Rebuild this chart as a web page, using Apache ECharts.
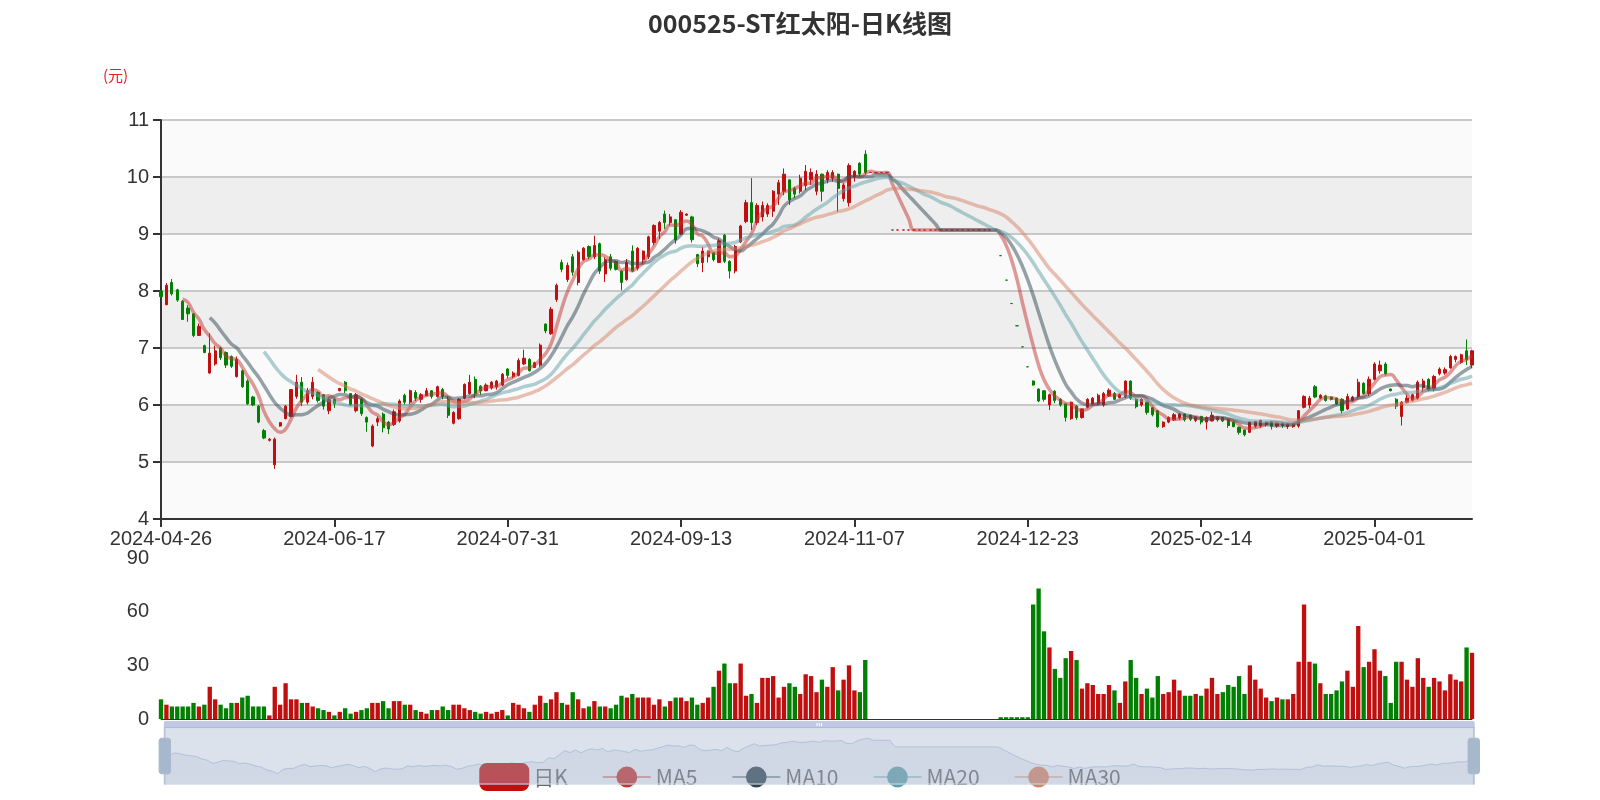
<!DOCTYPE html>
<html><head><meta charset="utf-8">
<script src="https://cdn.jsdelivr.net/npm/echarts@6/dist/echarts.min.js"></script>
<style>html,body{margin:0;padding:0;background:#fff}#c{width:1600px;height:800px}</style>
</head><body><div id="c"></div>
<script>
// ---- categories: trading days from 2024-04-26 ----
const startDate = '2024-04-26';
const dayCount = 243;
const holidays = ['2024-05-01','2024-05-02','2024-05-03','2024-06-10','2024-09-16','2024-09-17',
  '2024-10-01','2024-10-02','2024-10-03','2024-10-04','2024-10-07','2025-01-01',
  '2025-01-28','2025-01-29','2025-01-30','2025-01-31','2025-02-03','2025-02-04','2025-04-04'];

// ---- daily K: [open, close, low, high] ----
const kPart1 = [
[8.0,7.9,7.88,8.02],[7.76,8.1,7.75,8.14],[8.15,7.95,7.92,8.21],[8.02,7.84,7.81,8.04],[7.82,7.5,7.49,7.84],
[7.7,7.6,7.46,7.75],[7.6,7.22,7.19,7.61],[7.22,7.38,7.21,7.43],[7.04,6.92,6.91,7.06],[6.56,6.91,6.55,7.26],
[6.72,6.95,6.69,7.04],[7.0,6.83,6.79,7.02],[6.92,6.7,6.65,6.94],[6.85,6.68,6.65,6.87],[6.5,6.8,6.48,6.85],
[6.6,6.32,6.3,6.62],[6.42,6.02,6.0,6.45],[6.14,6.0,5.98,6.16],[5.98,5.7,5.68,6.0],[5.55,5.42,5.4,5.58],
[5.38,5.4,5.36,5.42],[4.95,5.4,4.88,5.43],[5.63,5.69,5.62,5.7],[5.76,5.98,5.75,6.0],[5.8,6.27,5.78,6.28],
[6.15,6.4,6.11,6.53],[6.4,6.05,5.98,6.49],[6.05,6.25,6.01,6.3],[6.15,6.4,6.1,6.49],[6.22,6.08,6.04,6.24],
[6.18,5.98,5.92,6.19],[5.9,6.1,5.84,6.13],[6.1,6.02,5.95,6.12],[6.25,6.29,6.24,6.3],[6.4,6.25,6.21,6.42],
[6.2,6.0,5.98,6.21],[5.9,6.18,5.87,6.21],[6.1,5.85,5.81,6.12],[5.78,5.7,5.53,5.8],[5.28,5.63,5.26,5.66],
[5.7,5.76,5.63,5.8],[5.84,5.6,5.52,5.87],[5.7,5.58,5.49,5.72],[5.66,5.88,5.63,5.92],[5.72,6.07,5.69,6.1],
[6.17,6.05,6.01,6.2],[6.05,6.25,6.01,6.27],[6.22,6.12,6.07,6.26],[6.1,6.18,6.04,6.21],[6.16,6.25,6.16,6.3],
[6.25,6.15,6.11,6.26],[6.15,6.32,6.13,6.34],[6.27,6.15,6.1,6.3],[6.1,5.82,5.77,6.15],[5.68,5.87,5.66,5.89],
[5.76,6.1,5.74,6.12],[6.12,6.36,6.1,6.38],[6.2,6.4,6.18,6.53],[6.45,6.2,6.12,6.5],[6.33,6.25,6.18,6.35],
[6.25,6.35,6.24,6.38],[6.3,6.4,6.27,6.42],[6.32,6.42,6.27,6.44],[6.35,6.54,6.33,6.56],[6.63,6.52,6.47,6.65],
[6.5,6.56,6.47,6.59],[6.52,6.78,6.5,6.82],[6.72,6.82,6.7,6.97],[6.8,6.6,6.59,6.82],[6.66,6.74,6.65,6.76],
[6.7,7.05,6.67,7.08],[7.42,7.3,7.26,7.43],[7.25,7.68,7.23,7.72],[7.85,8.1,7.81,8.13],[8.5,8.38,8.33,8.55],
[8.2,8.45,8.16,8.5],[8.6,8.33,8.27,8.65],[8.15,8.68,8.1,8.71],[8.55,8.75,8.53,8.77],[8.78,8.6,8.56,8.8],
[8.6,8.8,8.56,8.97],[8.83,8.35,8.3,8.85],[8.3,8.55,8.16,8.59],[8.6,8.4,8.36,8.65],[8.52,8.38,8.36,8.53],
[8.35,8.15,8.01,8.36],[8.2,8.5,8.18,8.56],[8.7,8.35,8.33,8.8],[8.4,8.75,8.36,8.77],[8.55,8.7,8.48,8.71],
[8.6,8.95,8.56,8.97],[8.85,9.15,8.8,9.17],[9.05,9.2,8.91,9.23],[9.35,9.2,9.09,9.41],[9.2,9.3,9.15,9.35],
[9.25,8.9,8.83,9.26],[9.0,9.38,8.98,9.42],[9.33,9.35,9.32,9.36],[9.3,8.9,8.85,9.32],[8.64,8.48,8.42,8.65],
[8.5,8.7,8.33,8.77],[8.6,8.7,8.5,8.71],[8.67,8.55,8.52,8.69],[8.5,8.88,8.49,8.92],[8.98,8.52,8.49,9.0],
[8.52,8.35,8.22,8.54],[8.35,8.78,8.31,8.81],[8.86,9.14,8.84,9.16],[9.22,9.55,9.19,9.6],[9.55,9.2,9.07,9.98],
[9.2,9.5,9.16,9.54],[9.3,9.5,9.22,9.57],[9.35,9.5,9.3,9.54],[9.4,9.75,9.3,9.77],[9.7,9.9,9.51,9.95],
[9.75,10.05,9.68,10.15],[9.95,9.6,9.51,9.95],[9.8,9.7,9.63,9.83],[9.75,9.98,9.71,10.04],[9.85,10.1,9.77,10.21],
[9.95,10.08,9.86,10.15],[9.75,10.05,9.68,10.12],[10.05,9.75,9.57,10.06],[9.95,10.08,9.89,10.12],[9.98,10.08,9.92,10.12],
[10.05,9.8,9.39,10.06],[9.62,9.86,9.57,9.89],[9.55,10.2,9.48,10.24],[10.0,10.1,9.92,10.12],[10.24,10.05,10.0,10.26],
[10.4,10.08,10.04,10.47]
];
// suspension / one-price days
const kPart2 = [
[10.08,10.08,10.08,10.08],[10.08,10.08,10.08,10.08],[10.08,10.08,10.08,10.08],[10.08,10.08,10.08,10.08],
[9.07,9.07,9.07,9.07],[9.07,9.07,9.07,9.07],[9.07,9.07,9.07,9.07],[9.07,9.07,9.07,9.07],[9.07,9.07,9.07,9.07],
[9.07,9.07,9.07,9.07],[9.07,9.07,9.07,9.07],[9.07,9.07,9.07,9.07],[9.07,9.07,9.07,9.07],[9.07,9.07,9.07,9.07],
[9.07,9.07,9.07,9.07],[9.07,9.07,9.07,9.07],[9.07,9.07,9.07,9.07],[9.07,9.07,9.07,9.07],[9.07,9.07,9.07,9.07],
[9.07,9.07,9.07,9.07],[9.07,9.07,9.07,9.07],[9.07,9.07,9.07,9.07],[9.07,9.07,9.07,9.07],[9.07,9.07,9.07,9.07],
[8.62,8.62,8.62,8.62],[8.19,8.19,8.19,8.19],[7.78,7.78,7.78,7.78],[7.39,7.39,7.39,7.39],[7.02,7.02,7.02,7.02],
[6.67,6.67,6.67,6.67]
];
const kPart3 = [
[6.42,6.35,6.34,6.43],[6.28,6.07,6.05,6.29],[6.25,6.1,6.06,6.26],[6.0,6.18,5.91,6.2],[6.24,6.08,6.03,6.26],
[6.1,6.0,5.97,6.12],[6.02,5.78,5.71,6.03],[5.76,6.05,5.74,6.06],[5.98,5.78,5.74,6.0],[5.78,5.93,5.76,5.94],
[5.96,6.1,5.94,6.12],[6.02,6.12,6.0,6.14],[6.03,6.17,6.0,6.2],[6.0,6.2,5.97,6.23],[6.16,6.26,6.14,6.29],
[6.2,6.1,6.09,6.23],[6.13,6.18,6.12,6.2],[6.14,6.42,6.12,6.43],[6.42,6.12,6.09,6.43],[6.1,5.97,5.94,6.12],
[6.0,6.1,5.97,6.12],[6.05,5.87,5.83,6.06],[5.95,5.83,5.8,5.97],[5.9,5.62,5.6,5.91],[5.62,5.7,5.6,5.71],
[5.7,5.78,5.68,5.8],[5.74,5.83,5.72,5.86],[5.77,5.84,5.74,5.86],[5.84,5.74,5.71,5.85],[5.82,5.75,5.72,5.83],
[5.73,5.79,5.7,5.8],[5.8,5.7,5.66,5.81],[5.7,5.78,5.57,5.8],[5.72,5.82,5.71,5.88],[5.74,5.79,5.71,5.8],
[5.78,5.72,5.7,5.79],[5.74,5.64,5.6,5.76],[5.7,5.62,5.61,5.71],[5.61,5.52,5.48,5.62],[5.56,5.48,5.45,5.57],
[5.52,5.7,5.51,5.71],[5.63,5.71,5.6,5.72],[5.63,5.73,5.6,5.74],[5.66,5.7,5.62,5.71],[5.7,5.63,5.57,5.72],
[5.63,5.68,5.6,5.69],[5.68,5.64,5.6,5.69],[5.62,5.67,5.58,5.68],[5.62,5.67,5.6,5.68],[5.63,5.9,5.6,5.91],
[5.96,6.15,5.94,6.17],[6.0,6.12,5.94,6.16],[6.32,6.14,6.12,6.35],[6.12,6.17,6.1,6.19],[6.16,6.08,6.06,6.18],
[6.14,6.1,6.08,6.15],[6.12,6.02,6.0,6.13],[6.1,5.9,5.85,6.12],[5.93,6.15,5.91,6.2],[6.08,6.14,6.06,6.16],
[6.15,6.4,6.12,6.46],[6.38,6.2,6.18,6.4],[6.2,6.45,6.16,6.5],[6.45,6.72,6.43,6.75],[6.6,6.7,6.55,6.78],
[6.72,6.55,6.52,6.75],[6.28,6.25,6.24,6.29],[6.1,5.98,5.93,6.12],[5.8,6.05,5.64,6.07],[6.05,6.12,6.03,6.18],
[6.08,6.18,6.06,6.2],[6.12,6.4,6.09,6.43],[6.3,6.42,6.23,6.46],[6.45,6.26,6.24,6.47],[6.28,6.5,6.24,6.53],
[6.55,6.63,6.52,6.66],[6.56,6.62,6.53,6.66],[6.65,6.85,6.64,6.88],[6.8,6.85,6.75,6.87],[6.75,6.88,6.72,6.9],
[6.95,6.8,6.7,7.15],[6.7,6.95,6.65,6.97]
];

// ---- volume (万手) ----
const volPart1 = [11,8,7,7,7,7,9,7,8,18, 11,8,6,9,9,12,13,7,7,7, 2,18,8,20,11,11,9,9,7,6,
 5,4,2,4,6,3,4,5,6,9, 9,10,6,10,10,8,8,5,4,3, 5,5,7,5,8,8,6,5,4,3, 4,3,4,5,2,9,8,6,4,8,
 13,9,11,15,9,8,15,11,6,7, 10,7,7,6,8,13,12,14,12,12, 12,8,11,7,10,12,12,10,12,8,
 9,12,18,27,31,20,20,31,13,14, 9,23,23,24,12,18,20,18,14,25, 24,15,22,18,29, 16,22,30,16,15,33];
const volPart2 = ['-','-','-','-','-','-','-','-','-','-','-','-','-','-','-','-','-','-','-','-','-','-','-','-',1,1,1,1,1,1];
const volPart3 = [64,73,49,40,28,23,34,38,33,17, 20,19,14,14,19,16,9,21,33,23, 14,17,12,24,14,15,22,16,13,13,
 14,13,17,23,14,15,19,18,24,14, 30,22,17,12,10,12,11,11,14,32, 64,32,31,20,14,14,
 16,21,27,18,52,29,32,39,27,24,9,32,32,22,18,34,23,18,23,21,16,25,22, 21,40,37];

const yTicks = [4,5,6,7,8,9,10,11];

// ---- build ----
function buildDates(){
  const out=[]; const d=new Date(startDate+'T00:00:00Z');
  while(out.length<dayCount){
    const s=d.toISOString().slice(0,10); const w=d.getUTCDay();
    if(w!==0&&w!==6&&holidays.indexOf(s)<0) out.push(s);
    d.setUTCDate(d.getUTCDate()+1);
  }
  return out;
}
const dates = buildDates();
const kData = kPart1.concat(kPart2, kPart3);
const volumes = volPart1.concat(volPart2, volPart3);

function calcMA(n){
  const r=[];
  for(let i=0;i<kData.length;i++){
    if(i<n-1){r.push('-');continue;}
    let s=0; for(let j=0;j<n;j++) s+=kData[i-j][1];
    r.push(+(s/n).toFixed(3));
  }
  return r;
}
const UP='#c10f0f', DOWN='#008000';
function isUp(i){
  const k=kData[i];
  if(k[1]>k[0]) return true;
  if(k[1]<k[0]) return false;
  return i>0 ? k[1]>=kData[i-1][1] : true;
}
const volData = volumes.map((v,i)=>({value:v,itemStyle:{color:isUp(i)?UP:DOWN}}));

const L=161, R=128;
const chart = echarts.init(document.getElementById('c'));
const maStyle = (c)=>({type:'line',smooth:true,showSymbol:false,symbol:'circle',symbolSize:14,
  lineStyle:{width:3.5,opacity:0.5,color:c},itemStyle:{color:c}});
chart.setOption({
  animation:false,
  backgroundColor:'#fff',
  title:{text:'000525-ST红太阳-日K线图',left:'center',top:6,
    textStyle:{fontSize:25,fontWeight:'bold',color:'#333',fontFamily:'Noto Sans CJK SC'}},
  legend:{bottom:4,left:'center',itemGap:34,itemWidth:48,itemHeight:26,
    textStyle:{fontSize:21,color:'#666',fontFamily:'Noto Sans CJK SC'},
    data:[{name:'日K',icon:'roundRect'},'MA5','MA10','MA20','MA30']},
  graphic:[{type:'text',left:103,top:68,style:{text:'(元)',fill:'#e02020',fontSize:15,fontFamily:'Noto Sans CJK SC'}}],
  grid:[{left:L,right:R,top:120,height:399},{left:L,right:R,top:558,height:161}],
  xAxis:[
    {type:'category',data:dates,boundaryGap:false,gridIndex:0,
     axisLine:{lineStyle:{color:'#333',width:2}},axisTick:{interval:31,length:8,lineStyle:{color:'#333',width:2}},
     axisLabel:{interval:31,fontSize:20,color:'#333',margin:10},splitLine:{show:false}},
    {type:'category',data:dates,boundaryGap:false,gridIndex:1,
     axisLine:{lineStyle:{color:'#333'}},axisTick:{show:false},axisLabel:{show:false}}
  ],
  yAxis:[
    {type:'value',gridIndex:0,min:yTicks[0],max:yTicks[yTicks.length-1],interval:1,
     axisLine:{show:true,lineStyle:{color:'#333',width:2}},axisTick:{show:true,length:8,lineStyle:{width:2}},
     axisLabel:{fontSize:20,color:'#333',margin:12},
     splitLine:{show:true,lineStyle:{color:'#c8c8c8',width:2}},
     splitArea:{show:true,areaStyle:{color:['rgba(250,250,250,1)','rgba(238,238,238,1)']}}},
    {type:'value',gridIndex:1,min:0,max:90,interval:30,
     axisLine:{show:false},axisTick:{show:false},
     axisLabel:{fontSize:20,color:'#333',margin:12},splitLine:{show:false}}
  ],
  dataZoom:[
    {type:'inside',xAxisIndex:[0,1],start:0,end:100},
    {type:'slider',xAxisIndex:[0,1],start:0,end:100,left:L,right:R,top:721,height:57,
     showDetail:false,borderColor:'#d2dbe8',backgroundColor:'rgba(47,69,84,0)',
     fillerColor:'rgba(167,183,204,0.4)',
     dataBackground:{lineStyle:{color:'#aab4c4',width:1},areaStyle:{color:'#c9d2de'}},
     handleStyle:{color:'#a7b7cc',borderColor:'#a7b7cc'}}
  ],
  series:[
    {name:'日K',type:'candlestick',data:kData,xAxisIndex:0,yAxisIndex:0,barMaxWidth:4,
     itemStyle:{color:UP,color0:DOWN,borderColor:UP,borderColor0:DOWN,borderWidth:1}},
    Object.assign({name:'MA5',data:calcMA(5)},maStyle('#c23531')),
    Object.assign({name:'MA10',data:calcMA(10)},maStyle('#2f4554')),
    Object.assign({name:'MA20',data:calcMA(20)},maStyle('#61a0a8')),
    Object.assign({name:'MA30',data:calcMA(30)},maStyle('#d48265')),
    {name:'成交量',type:'bar',xAxisIndex:1,yAxisIndex:1,data:volData,barWidth:'80%'}
  ]
});
</script></body></html>
